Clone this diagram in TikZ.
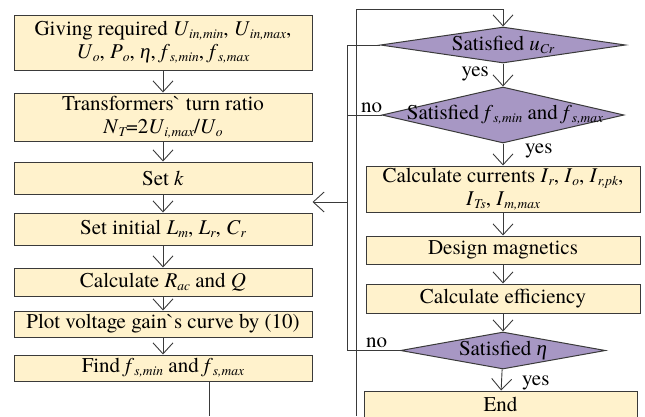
\documentclass[tikz,border=0pt]{standalone}
\usepackage{fontspec}
\setmainfont{texgyretermes}[Extension=.otf, UprightFont=*-regular, ItalicFont=*-italic, BoldFont=*-bold]
\newfontfamily\gravefont{texgyretermes}[Extension=.otf, UprightFont=*-regular]
\newfontfamily\greekfont{Liberation Serif}
\usetikzlibrary{arrows.meta,shapes.geometric}
\definecolor{boxfill}{HTML}{FFF2CC}
\definecolor{diafill}{HTML}{A797C4}
\definecolor{linec}{HTML}{3A3A3A}
\newcommand\sbs[1]{\raisebox{-0.35ex}{\fontsize{13.5pt}{14pt}\selectfont\itshape #1}}
\newcommand\vv[2]{\textit{#1}\sbs{#2}}
\newcommand\gr{{\gravefont`}}
\newcommand\etasym{{\greekfont\itshape η}}
\begin{document}
\begin{tikzpicture}[x=1pt,y=-1pt,
  font=\rmfamily\fontsize{21pt}{23pt}\selectfont,
  procbox/.style={draw=linec, line width=1pt, fill=boxfill, rectangle, inner sep=0pt, align=center},
  diabox/.style={draw=linec, line width=1pt, fill=diafill, diamond, inner sep=0pt},
  arr/.style={draw=linec, line width=0.9pt, -{Straight Barb[length=11pt,width=20pt,line width=0.9pt]}},
  ln/.style={draw=linec, line width=0.9pt},
  lbl/.style={inner sep=0pt}]
\useasboundingbox (0,0) rectangle (645,416);

% left column
\node[procbox, minimum width=298pt, minimum height=55pt] (b1) at (163,42.5)
  {Giving required \vv{U}{in,min}, \vv{U}{in,max},\\ \vv{U}{o}, \vv{P}{o}, \etasym, \vv{f}{s,min}, \vv{f}{s,max}};
\node[procbox, minimum width=298pt, minimum height=48pt] (b2) at (163,117)
  {Transformers\gr{} turn ratio\\ \vv{N}{T}=2\vv{U}{i,max}/\vv{U}{o}};
\node[procbox, minimum width=298pt, minimum height=32pt] (b3) at (163,178) {Set \textit{k}};
\node[procbox, minimum width=298pt, minimum height=32pt] (b4) at (163,229)
  {Set initial \vv{L}{m}, \vv{L}{r}, \vv{C}{r}};
\node[procbox, minimum width=298pt, minimum height=28pt] (b5) at (163,282)
  {Calculate \vv{R}{ac} and \textit{Q}};
\node[procbox, minimum width=298pt, minimum height=26pt] (b6) at (163,324)
  {Plot voltage gain\gr{}s curve by (10)};
\node[procbox, minimum width=298pt, minimum height=26pt] (b7) at (163,368)
  {Find \vv{f}{s,min} and \vv{f}{s,max}};

\draw[arr] (b1) -- (b2);
\draw[arr] (b2) -- (b3);
\draw[arr] (b3) -- (b4);
\draw[arr] (b4) -- (b5);
\draw[arr] (b5) -- (b6);
\draw[arr] (b6) -- (b7);

% right column
\node[diabox, minimum width=245pt, minimum height=36pt] (d1) at (503,45) {};
\node[lbl] (d1t) at (d1) {Satisfied \vv{u}{Cr}};
\node[diabox, minimum width=242pt, minimum height=56pt] (d2) at (503,115) {};
\node[lbl] (d2t) at (505,115) {Satisfied \vv{f}{s,min} and \vv{f}{s,max}};
\node[procbox, minimum width=274pt, minimum height=46pt] (cur) at (503,189)
  {Calculate currents \vv{I}{r}, \vv{I}{o}, \vv{I}{r,pk},\\ \vv{I}{Ts}, \vv{I}{m,max}};
\node[procbox, minimum width=274pt, minimum height=28pt] (mag) at (503,250) {Design magnetics};
\node[procbox, minimum width=274pt, minimum height=29pt] (eff) at (503,298.5) {Calculate efficiency};
\node[diabox, minimum width=205pt, minimum height=37pt] (d3) at (503,350.5) {};
\node[lbl] (d3t) at (d3) {Satisfied \etasym};
\node[procbox, minimum width=273pt, minimum height=26pt] (fin) at (500.5,404) {End};

\draw[arr] (d1) -- (d2);
\draw[arr] (d2) -- (cur);
\draw[arr] (cur) -- (mag);
\draw[arr] (mag) -- (eff);
\draw[arr] (eff) -- (d3);
\draw[arr] (d3) -- (fin);

% labels
\node[lbl, anchor=base east] (y1) at (489,76) {yes};
\node[lbl, anchor=base west] (y2) at (525,153) {yes};
\node[lbl, anchor=base west] (y3) at (522,385) {yes};
\node[lbl, anchor=base west] (n2) at (361,112) {no};
\node[lbl, anchor=base west] (n3) at (366,347) {no};

% loop back from Find
\coordinate (fbot) at (209,416);
\coordinate (busbot) at (356,416);
\coordinate (top) at (503,9);
\draw[ln] (b7.south -| fbot) -- (fbot);
\draw[arr] (busbot) |- (top) -- (d1.north);

% "no" feedback bus
\coordinate (busx) at (347,202);
\draw[ln] (d1.west) -| (busx);
\draw[ln] (d2.west) -- (d2.west -| busx);
\draw[ln] (d3.west) -| (busx);
\draw[arr] (busx) -- (busx -| b3.east);
\end{tikzpicture}
\end{document}
